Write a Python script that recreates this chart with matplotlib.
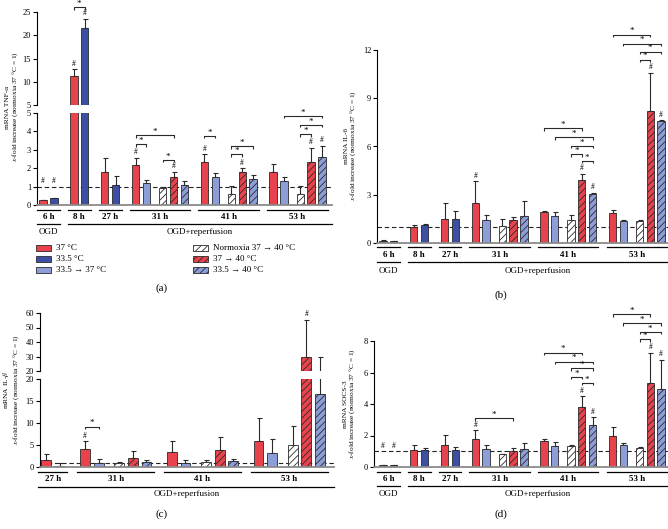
import matplotlib
matplotlib.use('Agg')
import matplotlib.pyplot as plt
from matplotlib.patches import Rectangle
from matplotlib.transforms import blended_transform_factory

plt.rcParams['font.family'] = ['Liberation Serif', 'DejaVu Serif']
plt.rcParams['mathtext.fontset'] = 'stix'
plt.rcParams['hatch.linewidth'] = 0.6

W, H = 668, 529

# series styling
series_names = ['37 °C', '33.5 °C', '33.5 → 37 °C',
                'Normoxia 37 → 40 °C', '37 → 40 °C', '33.5 → 40 °C']
RED, DBLUE, LBLUE, EDGE = '#e8434d', '#3d4fa3', '#8c9dd8', '#2a2a2a'
series_colors = [RED, DBLUE, LBLUE, 'white', RED, LBLUE]
series_hatch = [None, None, None, '/////', '/////', '/////']

# (a) TNF-alpha
tnf_groups = ['6 h', '8 h', '27 h', '31 h', '41 h', '53 h']
tnf_mean = [[0.25, 0.37], [11.2, 21.5], [1.8, 1.1],
            [2.2, 1.2, 0.9, 1.5, 1.08], [2.35, 1.5, 0.62, 1.8, 1.43],
            [1.82, 1.3, 0.6, 2.35, 2.6]]
tnf_err = [[0.03, 0.03], [1.5, 2.1], [0.78, 0.45],
           [0.38, 0.16, 0.07, 0.32, 0.2], [0.4, 0.23, 0.4, 0.2, 0.2],
           [0.4, 0.2, 0.42, 0.77, 0.62]]
tnf_hash = [[0, 1], [0, 1], [], [0, 3], [0, 3], [3, 4]]
tnf_stars = [(1, 0, 1, 26.0), (3, 0, 1, 3.3), (3, 0, 3, 3.8), (3, 2, 3, 2.45),
             (4, 0, 1, 3.75), (4, 2, 4, 3.2), (4, 2, 3, 2.75),
             (5, 1, 4, 4.84), (5, 2, 4, 4.35), (5, 2, 3, 3.85)]

# (b) IL-6
il6_groups = ['6 h', '8 h', '27 h', '31 h', '41 h', '53 h']
il6_mean = [[0.15, 0.12], [1.02, 1.1], [1.47, 1.47],
            [2.5, 1.42, 1.05, 1.4, 1.7], [1.95, 1.7, 1.4, 3.9, 3.05],
            [1.85, 1.35, 1.35, 8.2, 7.6]]
il6_err = [[0.02, 0.02], [0.12, 0.1], [1.0, 0.55],
           [1.35, 0.3, 0.45, 0.2, 0.9], [0.04, 0.25, 0.35, 0.4, 0.08],
           [0.2, 0.1, 0.1, 2.4, 0.05]]
il6_hash = [[], [], [], [0], [3, 4], [3, 4]]
il6_stars = [(4, 0, 3, 7.14), (4, 1, 4, 6.57), (4, 2, 4, 6.04), (4, 2, 3, 5.53),
             (4, 3, 4, 5.1), (5, 0, 3, 12.96), (5, 1, 4, 12.4), (5, 2, 4, 11.9),
             (5, 2, 3, 11.4)]

# (c) IL-beta
il1_groups = ['27 h', '31 h', '41 h', '53 h']
il1_mean = [[1.7, 0.3], [4.1, 1.0, 0.9, 2.1, 1.2], [3.5, 1.0, 1.1, 3.9, 1.3],
            [5.9, 3.2, 5.0, 29.5, 16.5]]
il1_err = [[1.2, 0.6], [1.8, 0.9, 0.2, 1.5, 0.4], [2.4, 0.6, 0.4, 3.0, 0.6],
           [5.3, 3.2, 4.3, 26.0, 13.5]]
il1_hash = [[], [0], [], [3]]
il1_stars = [(1, 0, 1, 9.2)]

# (d) SOCS-3
socs_groups = ['6 h', '8 h', '27 h', '31 h', '41 h', '53 h']
socs_mean = [[0.12, 0.13], [1.1, 1.05], [1.4, 1.05],
             [1.78, 1.15, 0.82, 1.0, 1.15], [1.65, 1.32, 1.32, 3.8, 2.65],
             [2.0, 1.4, 1.22, 5.35, 4.97]]
socs_err = [[0.01, 0.01], [0.28, 0.15], [0.65, 0.25],
            [0.55, 0.22, 0.02, 0.2, 0.35], [0.15, 0.25, 0.05, 0.7, 0.5],
            [0.55, 0.12, 0.07, 1.9, 1.85]]
socs_hash = [[0, 1], [], [], [0], [3, 4], [3, 4]]
socs_stars = [(3, 0, 3, 3.09), (4, 0, 3, 7.26), (4, 1, 4, 6.69), (4, 2, 4, 6.27),
              (4, 2, 3, 5.73), (4, 3, 4, 5.35), (5, 0, 3, 9.7), (5, 1, 4, 9.12),
              (5, 2, 4, 8.59), (5, 2, 3, 8.1)]

fig = plt.figure(figsize=(W / 100, H / 100), dpi=100)


def fy(py):
    return 1 - py / H


def px_ax(x0, x1, ytop, ybot, ylim, xlim, ticks, bottom=True):
    ax = fig.add_axes([x0 / W, fy(ybot), (x1 - x0) / W, (ybot - ytop) / H])
    ax.set_xlim(*xlim)
    ax.set_ylim(*ylim)
    ax.set_yticks(ticks)
    ax.set_xticks([])
    for s in ['top', 'right']:
        ax.spines[s].set_visible(False)
    ax.spines['left'].set_linewidth(0.8)
    if bottom:
        ax.spines['bottom'].set_color('#8a8a8a')
        ax.spines['bottom'].set_linewidth(1.3)
    else:
        ax.spines['bottom'].set_visible(False)
    ax.tick_params(axis='y', length=3, width=0.8, labelsize=6, pad=1.2)
    ax.patch.set_alpha(0)
    return ax


def group_positions(means, gstep=1.85):
    pos, cur = [], 0.0
    for m in means:
        p = [cur, cur + 1] if len(m) == 2 else [cur, cur + 1, cur + 2.5, cur + 3.5, cur + 4.5]
        pos.append(p)
        cur = p[-1] + gstep
    return pos


def kinds(n):
    return [0, 1] if n == 2 else [0, 2, 3, 4, 5]


def pick_ax(axs, y):
    for ax in axs:
        lo, hi = ax.get_ylim()
        if lo <= y <= hi:
            return ax
    return axs[-1]


def px2data(ax, dpx):
    h = ax.get_position().height * H
    lo, hi = ax.get_ylim()
    return dpx * (hi - lo) / h


def draw_panel(axs, means, errs, hashes, stars, width):
    pos = group_positions(means)
    for ax in axs:
        ax.axhline(1, color='#222222', lw=0.8, ls=(0, (4, 2.5)), zorder=1)
        for p, m, e in zip(pos, means, errs):
            for x, v, err, k in zip(p, m, e, kinds(len(m))):
                ax.bar(x, v, width, color=series_colors[k], edgecolor=EDGE,
                       linewidth=0.6, hatch=series_hatch[k], zorder=2)
                ax.errorbar(x, v, yerr=[[0], [err]], fmt='none', ecolor=EDGE,
                            elinewidth=0.8, capsize=1.8, capthick=0.8, zorder=1.5)
    for p, m, e, hs in zip(pos, means, errs, hashes):
        for i in hs:
            y = max(m[i] + e[i], 1.0)
            ax = pick_ax(axs, y)
            ax.annotate('#', (p[i], y), xytext=(0, 1), textcoords='offset points',
                        ha='center', va='bottom', fontsize=5.5, annotation_clip=False)
    for g, i, j, y in stars:
        x1, x2 = pos[g][i], pos[g][j]
        ax = pick_ax(axs, y)
        d = px2data(ax, 2.5)
        ax.plot([x1, x1, x2, x2], [y - d, y, y, y - d], color=EDGE, lw=0.8,
                clip_on=False, solid_capstyle='butt')
        ax.annotate('*', ((x1 + x2) / 2, y), xytext=(0, -0.5), textcoords='offset points',
                    ha='center', va='bottom', fontsize=6.5, annotation_clip=False)
    return pos


def draw_labels(ax, pos, groups, ys, ogd=True):
    tr = blended_transform_factory(ax.transData, fig.transFigure)
    yl, yt, yl2, yt2 = ys
    for p, g in zip(pos, groups):
        a, b = p[0] - 0.55, p[-1] + 0.55
        ax.plot([a, b], [fy(yl)] * 2, transform=tr, clip_on=False, color='k', lw=0.9)
        ax.text((p[0] + p[-1]) / 2, fy(yt), g, transform=tr, ha='center', va='center',
                fontsize=6.5, fontweight='bold')
    right = ax.get_xlim()[1]
    if ogd:
        a, b = pos[0][0] - 0.55, pos[0][-1] + 0.55
        ax.plot([a, b], [fy(yl2)] * 2, transform=tr, clip_on=False, color='k', lw=0.9)
        ax.text((a + b) / 2, fy(yt2), 'OGD', transform=tr, ha='center', va='center', fontsize=6.5)
        start = pos[1][0] - 0.55
    else:
        start = pos[0][0] - 0.55
    ax.plot([start, right], [fy(yl2)] * 2, transform=tr, clip_on=False, color='k', lw=0.9)
    ax.text((start + right) / 2, fy(yt2), 'OGD+reperfusion', transform=tr,
            ha='center', va='center', fontsize=6.5)


def ylabel(x, y, top, bottom):
    fig.text(x / W, fy(y), top + '\n' + bottom, rotation=90, ha='center', va='center',
             fontsize=5.3, multialignment='center', linespacing=0.95)


ylab2 = r'$x$-fold increase (normoxia 37 °C = 1)'

# ---- (a) ----
xa = (-(43 - 37) / 10.83, (332 - 43) / 10.83)
a_lo = px_ax(37, 332, 113, 205, (0, 5), xa, [0, 1, 2, 3, 4, 5])
a_hi = px_ax(37, 332, 12, 105, (5, 25), xa, [5, 10, 15, 20, 25], bottom=False)
pos = draw_panel([a_lo, a_hi], tnf_mean, tnf_err, tnf_hash, tnf_stars, 0.68)
draw_labels(a_lo, pos, tnf_groups, (210, 217, 224, 232))
ylabel(12.5, 107, 'mRNA TNF-α', ylab2)
fig.text(162 / W, fy(288), '(a)', ha='center', va='center', fontsize=8)

# legend
for k, name in enumerate(series_names):
    col, row = divmod(k, 3)
    lx = [36, 193][col]
    ly = [248, 259, 270][row]
    fig.add_artist(Rectangle((lx / W, fy(ly + 3)), 15 / W, 6 / H, transform=fig.transFigure,
                             facecolor=series_colors[k], edgecolor=EDGE, lw=0.6,
                             hatch=series_hatch[k]))
    fig.text((lx + 20) / W, fy(ly), name, ha='left', va='center', fontsize=6.5)

# ---- (b) ----
xb = (-(383 - 377) / 10.8, (668 - 383) / 10.8)
b_ax = px_ax(377, 668, 50, 243, (0, 12), xb, [0, 3, 6, 9, 12])
pos = draw_panel([b_ax], il6_mean, il6_err, il6_hash, il6_stars, 0.68)
draw_labels(b_ax, pos, il6_groups, (247, 255, 262, 271))
ylabel(351, 146, 'mRNA IL-6', ylab2)
fig.text(501 / W, fy(295), '(b)', ha='center', va='center', fontsize=8)

# ---- (c) ----
xc = (-(46 - 40) / 13.67, (334 - 46) / 13.67)
c_lo = px_ax(40, 334, 379, 467, (0, 20), xc, [0, 5, 10, 15, 20])
c_hi = px_ax(40, 334, 313, 371, (20, 60), xc, [20, 30, 40, 50, 60], bottom=False)
pos = draw_panel([c_lo, c_hi], il1_mean, il1_err, il1_hash, il1_stars, 0.72)
draw_labels(c_lo, pos, il1_groups, (472, 479, 487, 494), ogd=False)
ylabel(11, 390, r'mRNA IL-$\beta$', ylab2)
fig.text(162 / W, fy(514), '(c)', ha='center', va='center', fontsize=8)

# ---- (d) ----
xd = (-(383 - 374) / 10.8, (668 - 383) / 10.8)
d_ax = px_ax(374, 668, 341, 467, (0, 8), xd, [0, 2, 4, 6, 8])
pos = draw_panel([d_ax], socs_mean, socs_err, socs_hash, socs_stars, 0.68)
draw_labels(d_ax, pos, socs_groups, (472, 479, 486, 494))
ylabel(350, 404, 'mRNA SOCS-3', ylab2)
fig.text(501 / W, fy(514), '(d)', ha='center', va='center', fontsize=8)

fig.savefig('out.png', dpi=100)
